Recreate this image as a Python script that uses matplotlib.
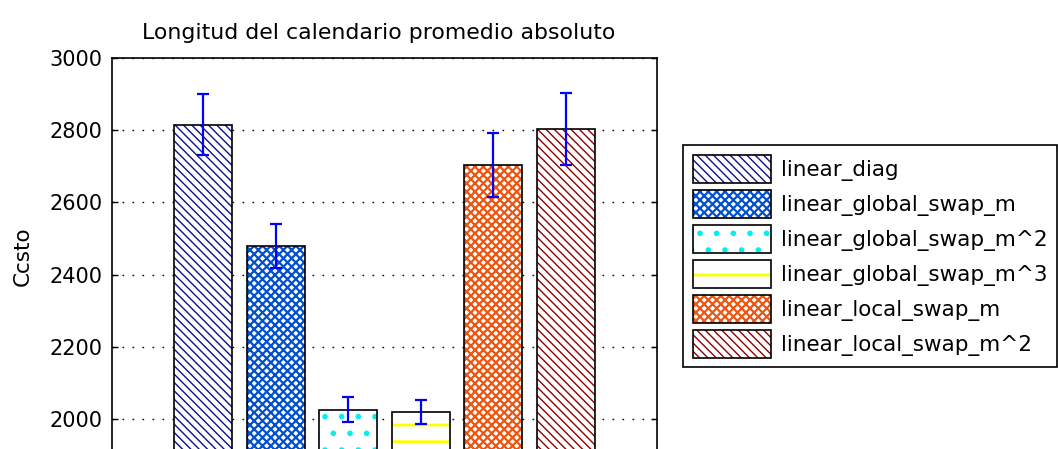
import matplotlib
matplotlib.use('Agg')
import matplotlib.pyplot as plt
from matplotlib.patches import Patch
from matplotlib.legend_handler import HandlerPatch
import numpy as np

# data
methods = ['linear_diag', 'linear_global_swap_m', 'linear_global_swap_m^2',
           'linear_global_swap_m^3', 'linear_local_swap_m', 'linear_local_swap_m^2']
mean_cost = [2815, 2480, 2026, 2019, 2704, 2804]
err_cost = [85, 61, 35, 34, 89, 100]
y_ticks = [2000, 2200, 2400, 2600, 2800, 3000]

bs = chr(92)  # backslash, for the hatch strings
hatch_colors = ['#10108a', '#0050d0', '#00f0f0', '#ffff00', '#ee5511', '#900000']
hatch_styles = [bs * 4, 'xxxx', '.', '-', 'xxxx', bs * 4]
hatch_widths = [1.0, 1.6, 1.6, 2.0, 1.6, 1.0]


class HatchHandler(HandlerPatch):
    # legend copies of the patches lose the hatch linewidth, put it back
    def create_artists(self, legend, orig_handle, xdescent, ydescent, width, height, fontsize, trans):
        arts = super().create_artists(legend, orig_handle, xdescent, ydescent, width, height, fontsize, trans)
        if hasattr(orig_handle, 'get_hatch_linewidth'):
            for a in arts:
                a.set_hatch_linewidth(orig_handle.get_hatch_linewidth())
        return arts


fig = plt.figure(figsize=(10.58, 4.49), dpi=100)
ax = fig.add_axes([0.1059, -0.0134, 0.5151, 0.8842])

x = np.arange(1, len(methods) + 1)
handles = []
for i in range(len(methods)):
    with plt.rc_context({'hatch.linewidth': hatch_widths[i]}):
        bars = ax.bar(x[i], mean_cost[i], 0.8, color='white', edgecolor=hatch_colors[i],
                      hatch=hatch_styles[i], linewidth=0, zorder=2)
        hp = Patch(facecolor='white', edgecolor=hatch_colors[i], hatch=hatch_styles[i], linewidth=0)
    for p in list(bars) + [hp]:
        if hasattr(p, 'set_hatch_linewidth'):
            p.set_hatch_linewidth(hatch_widths[i])
    ax.bar(x[i], mean_cost[i], 0.8, fill=False, edgecolor='black', linewidth=1.2, zorder=3)
    handles.append((hp, Patch(fill=False, edgecolor='black', linewidth=1.2)))

ax.errorbar(x, mean_cost, yerr=err_cost, fmt='none', ecolor='blue',
            elinewidth=1.6, capsize=4.5, capthick=1.6, zorder=4)

ax.set_xlim(-0.255, 7.262)
ax.set_ylim(1900, 3000)
ax.set_xticks([])
ax.set_yticks(y_ticks)
ax.yaxis.grid(True, linestyle=(0, (1.2, 6)), color='black', linewidth=1)
ax.set_axisbelow(True)
ax.tick_params(axis='y', direction='in', length=4, width=1, right=True, labelsize=15, pad=7)
for s in ax.spines.values():
    s.set_linewidth(1.2)

ax.set_title('Longitud del calendario promedio absoluto', fontsize=15.8, pad=14, x=0.49)
ax.set_ylabel('Ccsto', fontsize=15.5, labelpad=12)

leg = fig.legend(handles, methods, loc='upper left',
                 bbox_to_anchor=(683 / 1058, (449 - 145) / 449), borderaxespad=0,
                 fontsize=15.5, handlelength=3.65, handleheight=1.63, labelspacing=0.32,
                 borderpad=0.45, handletextpad=0.45, fancybox=False, framealpha=1,
                 edgecolor='black', handler_map={Patch: HatchHandler()})
leg.get_frame().set_linewidth(1.2)

plt.savefig('out.png', dpi=100)
plt.close()
